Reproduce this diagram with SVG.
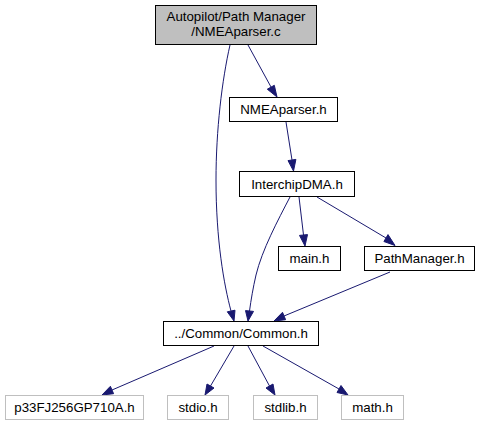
<svg xmlns="http://www.w3.org/2000/svg" width="480" height="427" viewBox="0 0 480 427">
<style>
.n rect{fill:#fff;stroke:#000;stroke-width:1}
.n.g rect{stroke:#bfbfbf}
.n.top rect{fill:#bfbfbf}
text{font-family:"Liberation Sans",Arial,sans-serif;font-size:13.3px;fill:#000;text-anchor:middle}
.e path{fill:none;stroke:#191970;stroke-width:1}
.e polygon{fill:#191970;stroke:#191970}
</style>
<rect width="480" height="427" fill="#fff"/>
<g id="edges" class="e">
<path d="M248,45 L271,87"/><polygon points="267.3,89.2 277,97 274.3,85.3"/>
<path d="M230,45 C222,80 216,130 216,180 C216,240 224,285 231,311"/><polygon points="227.3,311.8 234,321 235,310.2"/>
<path d="M286,122 L292,160"/><polygon points="288,160.6 293.5,171 295.9,159.4"/>
<path d="M299,197 L303.5,235"/><polygon points="299.5,235.4 305,246 307.5,234.6"/>
<path d="M317,197 L386,238"/><polygon points="383.9,241.5 395,245.5 388,234.6"/>
<path d="M290,197 C278,220 262,250 256,275 C253,288 251,300 249.5,311"/><polygon points="245.5,310.6 248,321 253.5,311.4"/>
<path d="M390,272 L284,316"/><polygon points="282.5,312.3 274,321 285.6,319.7"/>
<path d="M214,346 L112,390"/><polygon points="110.4,386.3 102,395 113.6,393.7"/>
<path d="M234,346 L210.5,386"/><polygon points="207,384 205,395 214,388"/>
<path d="M248,346 L269.5,386"/><polygon points="266,388 275,395 273,384"/>
<path d="M263,346 L339,389"/><polygon points="337,392.5 348,395 341,385.5"/>
</g>
<g id="n_top" class="n top"><rect x="155.5" y="5.5" width="161" height="39"/><text x="236" y="21">Autopilot/Path Manager</text><text x="236" y="36">/NMEAparser.c</text></g>
<g id="n_nmea" class="n"><rect x="229.5" y="97.5" width="108" height="24"/><text x="283.5" y="114">NMEAparser.h</text></g>
<g id="n_dma" class="n"><rect x="239.5" y="171.5" width="115" height="25"/><text x="297" y="188.5">InterchipDMA.h</text></g>
<g id="n_main" class="n"><rect x="278.5" y="246.5" width="62" height="24"/><text x="309.5" y="263">main.h</text></g>
<g id="n_path" class="n"><rect x="364.5" y="246.5" width="110" height="24"/><text x="419.5" y="263">PathManager.h</text></g>
<g id="n_common" class="n"><rect x="163.5" y="321.5" width="155" height="24"/><text x="241" y="338">../Common/Common.h</text></g>
<g id="n_p33" class="n g"><rect x="5.5" y="395.5" width="138" height="24"/><text x="74.5" y="412">p33FJ256GP710A.h</text></g>
<g id="n_stdio" class="n g"><rect x="167.5" y="395.5" width="61" height="24"/><text x="198" y="412">stdio.h</text></g>
<g id="n_stdlib" class="n g"><rect x="253.5" y="395.5" width="64" height="24"/><text x="285.5" y="412">stdlib.h</text></g>
<g id="n_math" class="n g"><rect x="341.5" y="395.5" width="62" height="24"/><text x="372.5" y="412">math.h</text></g>
</svg>
